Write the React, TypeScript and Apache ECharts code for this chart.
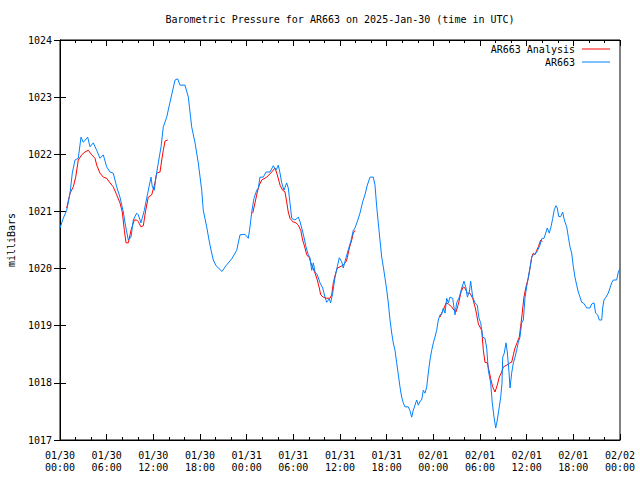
import React, { useEffect, useRef } from "react";
import * as echarts from "echarts";

const TITLE = "Barometric Pressure for AR663 on 2025-Jan-30 (time in UTC)";
const Y_NAME = "milliBars";
const SERIES_NAMES = ["AR663 Analysis", "AR663"];

// hours since 2025-01-30 00:00 UTC
const stationHours = [0.00,0.42,0.86,1.29,1.58,1.93,2.35,2.70,3.00,3.56,3.86,4.28,4.72,5.14,5.57,6.00,6.43,6.85,7.29,7.71,8.14,8.45,8.78,9.13,9.42,9.86,10.07,10.41,10.84,11.28,11.70,11.87,12.12,12.34,12.64,12.99,13.28,13.72,14.14,14.44,14.79,15.13,15.43,16.07,16.50,16.93,17.36,17.78,18.22,18.42,18.86,19.16,19.50,19.71,20.06,20.83,21.34,22.08,22.72,23.14,23.79,24.21,24.43,24.65,24.94,25.29,25.50,25.71,26.14,26.49,27.00,27.42,27.77,28.07,28.29,28.50,28.80,29.14,29.35,29.57,29.79,30.21,30.64,30.86,31.08,31.37,31.63,31.92,32.14,32.36,32.57,32.79,33.08,33.43,33.78,34.07,34.29,34.62,34.80,35.06,35.36,35.65,35.91,36.22,36.42,36.77,37.07,37.38,37.71,37.93,38.22,38.57,38.92,39.21,39.51,39.86,40.28,40.50,40.72,40.92,41.14,41.36,41.57,41.79,42.00,42.21,42.43,42.65,42.85,43.07,43.29,43.50,43.71,43.93,44.14,44.36,44.78,45.00,45.22,45.42,45.64,45.86,46.07,46.29,46.50,46.71,46.93,47.15,47.35,47.57,47.79,48.00,48.21,48.43,48.64,48.86,49.07,49.28,49.50,49.72,49.93,50.14,50.49,50.79,51.00,51.34,51.65,51.94,52.20,52.37,52.63,52.80,53.06,53.36,53.65,53.87,54.09,54.35,54.64,54.86,55.07,55.37,55.58,55.80,56.02,56.22,56.48,56.66,56.83,56.92,57.12,57.34,57.51,57.73,57.86,58.07,58.29,58.50,58.71,58.93,59.14,59.36,59.57,59.79,60.00,60.21,60.43,60.65,60.85,61.20,61.42,61.71,61.93,62.23,62.49,62.65,62.91,63.13,63.35,63.55,63.77,63.94,64.12,64.38,64.63,64.84,65.15,65.36,65.57,65.79,66.00,66.21,66.43,66.64,66.86,67.07,67.28,67.50,67.72,68.14,68.36,68.66,68.87,69.13,69.34,69.65,69.77,69.94,70.20,70.49,70.71,70.93,71.14,71.57,71.79,72.00];
const stationPressure = [1020.71,1020.88,1021.02,1021.32,1021.67,1021.90,1021.93,1022.30,1022.21,1022.30,1022.13,1022.20,1022.07,1021.93,1021.99,1021.78,1021.69,1021.67,1021.43,1021.25,1020.99,1020.73,1020.50,1020.55,1020.85,1020.97,1020.94,1020.80,1021.02,1021.32,1021.60,1021.43,1021.37,1021.60,1021.85,1022.13,1022.48,1022.65,1022.91,1023.09,1023.30,1023.32,1023.21,1023.21,1023.00,1022.48,1022.20,1021.85,1021.37,1021.02,1020.73,1020.50,1020.27,1020.15,1020.05,1019.95,1020.05,1020.17,1020.32,1020.59,1020.60,1020.53,1020.73,1020.99,1021.23,1021.37,1021.41,1021.60,1021.60,1021.69,1021.69,1021.80,1021.72,1021.81,1021.67,1021.50,1021.37,1021.50,1021.41,1021.15,1020.88,1020.85,1020.90,1020.82,1020.71,1020.55,1020.38,1020.24,1020.19,1019.97,1020.10,1019.94,1019.89,1019.75,1019.66,1019.50,1019.41,1019.47,1019.40,1019.57,1019.85,1020.03,1020.19,1020.12,1020.01,1020.19,1020.33,1020.47,1020.67,1020.71,1020.82,1020.97,1021.17,1021.29,1021.46,1021.60,1021.60,1021.46,1021.08,1020.80,1020.50,1020.20,1020.03,1019.83,1019.63,1019.40,1019.10,1018.87,1018.70,1018.57,1018.35,1018.14,1017.93,1017.75,1017.65,1017.58,1017.58,1017.51,1017.40,1017.52,1017.61,1017.70,1017.61,1017.68,1017.70,1017.87,1017.82,1017.93,1018.17,1018.40,1018.57,1018.70,1018.80,1018.92,1019.10,1019.19,1019.20,1019.31,1019.22,1019.48,1019.40,1019.50,1019.48,1019.19,1019.40,1019.50,1019.66,1019.78,1019.66,1019.50,1019.59,1019.78,1019.50,1019.40,1019.36,1019.13,1019.05,1018.80,1018.78,1018.61,1018.22,1018.00,1017.65,1017.40,1017.21,1017.35,1017.58,1017.75,1018.00,1018.45,1018.52,1018.70,1018.54,1018.19,1017.91,1018.17,1018.35,1018.45,1018.57,1018.71,1018.80,1019.05,1019.10,1019.50,1019.68,1019.85,1020.01,1020.20,1020.24,1020.27,1020.32,1020.41,1020.52,1020.53,1020.64,1020.71,1020.62,1020.73,1020.88,1021.03,1021.10,1021.06,1020.91,1020.91,1020.99,1020.85,1020.73,1020.55,1020.38,1020.27,1020.03,1019.85,1019.71,1019.59,1019.50,1019.41,1019.40,1019.36,1019.31,1019.31,1019.38,1019.40,1019.22,1019.19,1019.10,1019.10,1019.31,1019.45,1019.50,1019.57,1019.66,1019.75,1019.80,1019.80,1019.94,1020.00];

// analysis: null marks a gap between analysis runs
const analysisHours = [0.86,1.29,1.71,2.02,2.35,2.79,3.21,3.64,4.08,4.50,4.72,5.14,5.57,6.00,6.43,6.85,7.29,7.71,8.01,8.27,8.49,8.78,9.13,9.55,9.86,10.07,10.41,10.71,11.02,11.35,11.79,12.21,12.43,12.86,13.08,13.28,13.50,13.85,
  19.0,
  24.78,25.07,25.37,25.62,25.93,26.58,27.22,27.64,27.94,28.29,28.63,28.93,29.14,29.35,29.57,29.92,30.34,30.64,30.95,31.20,31.50,31.72,32.05,32.36,32.79,33.08,33.34,33.52,33.85,34.29,34.71,34.93,35.14,35.49,35.65,36.00,36.42,36.77,36.94,37.20,37.51,37.71,37.93,
  43.0,
  48.86,49.07,49.28,49.63,49.93,50.36,50.66,50.91,51.12,51.34,51.56,51.85,52.07,52.37,52.71,53.06,53.36,53.58,53.79,54.22,54.43,54.64,54.94,55.20,55.41,55.63,55.93,56.22,56.48,56.79,57.00,57.43,57.86,58.07,58.29,58.50,58.79,59.05,59.22,59.43,59.65,59.91,60.21,60.43,60.65,60.85,61.07,61.29,61.50,61.80,62.01];
const analysisPressure: (number | null)[] = [1021.06,1021.32,1021.43,1021.60,1021.90,1021.99,1022.04,1022.07,1021.99,1021.93,1021.81,1021.67,1021.60,1021.58,1021.50,1021.43,1021.29,1021.15,1020.99,1020.67,1020.45,1020.45,1020.67,1020.85,1020.85,1020.82,1020.73,1020.75,1021.02,1021.25,1021.29,1021.50,1021.67,1021.69,1021.90,1022.07,1022.23,1022.25,
  null,
  1020.97,1021.15,1021.34,1021.46,1021.55,1021.60,1021.69,1021.76,1021.64,1021.46,1021.37,1021.34,1021.17,1020.99,1020.88,1020.82,1020.80,1020.76,1020.67,1020.50,1020.36,1020.24,1020.19,1020.06,1019.92,1019.80,1019.66,1019.54,1019.50,1019.48,1019.48,1019.54,1019.75,1019.94,1020.01,1020.03,1020.06,1020.12,1020.19,1020.36,1020.50,1020.62,1020.67,
  null,
  1019.15,1019.22,1019.27,1019.40,1019.38,1019.33,1019.27,1019.24,1019.33,1019.45,1019.59,1019.68,1019.66,1019.57,1019.57,1019.48,1019.33,1019.19,1019.03,1018.92,1018.57,1018.36,1018.35,1018.19,1018.05,1017.93,1017.84,1017.96,1018.10,1018.19,1018.28,1018.31,1018.35,1018.36,1018.49,1018.61,1018.71,1018.80,1018.98,1019.22,1019.50,1019.68,1019.83,1020.01,1020.20,1020.27,1020.24,1020.32,1020.38,1020.50,1020.47];

const START_UTC = Date.UTC(2025, 0, 30);
const X_MIN = 0, X_MAX = 72, X_STEP = 6;
const Y_MIN = 1017, Y_MAX = 1024, Y_STEP = 1;

const FONT = "DejaVu Sans Mono";

function pad(n: number) { return n < 10 ? "0" + n : "" + n; }
function hourLabel(h: number) {
  const d = new Date(START_UTC + h * 3600e3);
  return `${pad(d.getUTCMonth() + 1)}/${pad(d.getUTCDate())}\n${pad(d.getUTCHours())}:${pad(d.getUTCMinutes())}`;
}

export default function App() {
  const ref = useRef<HTMLDivElement>(null);
  useEffect(() => {
    if (!ref.current) return;
    const chart = echarts.init(ref.current, undefined, { renderer: "svg" });
    const stationData = stationHours.map((h, i) => [h, stationPressure[i]]);
    const analysisData = analysisHours.map((h, i) => [h, analysisPressure[i] === null ? "-" : analysisPressure[i]]);
    const axisLine = { show: true, lineStyle: { color: "#000", width: 1 } };
    const xCommon = {
      type: "value" as const, min: X_MIN, max: X_MAX, interval: X_STEP,
      axisLine, splitLine: { show: false },
      axisTick: { show: true, inside: true, length: 6, lineStyle: { color: "#000" } },
      minorTick: { show: true, splitNumber: 3, length: 3, lineStyle: { color: "#000" } },
    };
    const yCommon = {
      type: "value" as const, min: Y_MIN, max: Y_MAX, interval: Y_STEP,
      axisLine, splitLine: { show: false },
      axisTick: { show: true, inside: true, length: 6, lineStyle: { color: "#000" } },
    };
    chart.setOption({
      animation: false,
      backgroundColor: "#fff",
      textStyle: { fontFamily: FONT },
      graphic: [
        { type: "text", x: 340, y: 19, style: { text: TITLE, font: `10px '${FONT}'`, fill: "#000", textAlign: "center", textVerticalAlign: "middle" } },
      ],
      legend: {
        orient: "vertical", right: 25, top: 39, align: "right",
        icon: "rect", itemWidth: 28, itemHeight: 1, itemGap: 3,
        textStyle: { fontFamily: FONT, fontSize: 10, color: "#000", padding: [0, 2, 0, 0] },
        data: SERIES_NAMES,
      },
      grid: { left: 60, right: 20, top: 40, bottom: 40, show: true, borderColor: "#000", borderWidth: 1,
        containLabel: false, outerBoundsMode: "none" },
      xAxis: [
        { ...xCommon, position: "bottom",
          axisLabel: { show: true, margin: 9, fontFamily: FONT, fontSize: 10, color: "#000", lineHeight: 12,
            formatter: (v: number) => hourLabel(v) } },
        { ...xCommon, position: "top", axisLabel: { show: false } },
      ],
      yAxis: [
        { ...yCommon, position: "left", name: Y_NAME, nameLocation: "middle", nameRotate: 90, nameGap: 44,
          nameTextStyle: { fontFamily: FONT, fontSize: 10, color: "#000" },
          axisLabel: { show: true, margin: 8, fontFamily: FONT, fontSize: 10, color: "#000",
            formatter: (v: number) => String(v) } },
        { ...yCommon, position: "right", axisLabel: { show: false } },
      ],
      series: [
        { name: SERIES_NAMES[0], type: "line", data: analysisData, symbol: "none", connectNulls: false,
          lineStyle: { color: "#ff0000", width: 1 }, itemStyle: { color: "#ff0000" } },
        { name: SERIES_NAMES[1], type: "line", data: stationData, symbol: "none",
          lineStyle: { color: "#0080ff", width: 1 }, itemStyle: { color: "#0080ff" } },
      ],
    });
    return () => chart.dispose();
  }, []);
  return <div ref={ref} style={{ position: "absolute", left: 0, top: 0, width: 640, height: 480 }} />;
}
